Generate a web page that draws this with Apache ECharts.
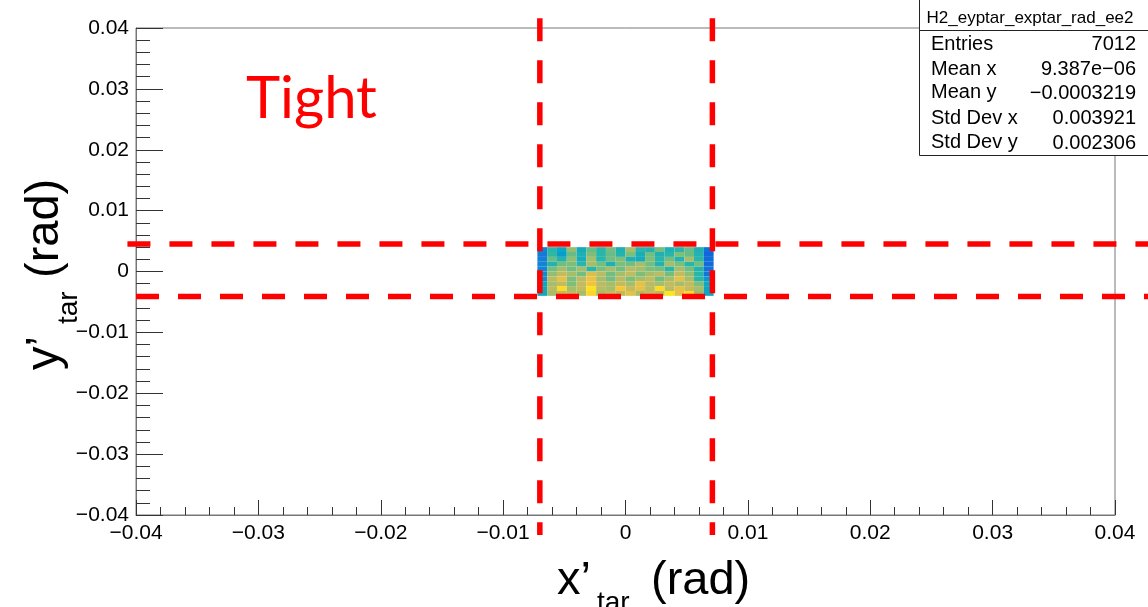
<!DOCTYPE html>
<html><head><meta charset="utf-8">
<script src="https://cdn.jsdelivr.net/npm/echarts@6/dist/echarts.min.js"></script>
<style>html,body{margin:0;padding:0;background:#fff}#c{width:1148px;height:607px}</style>
</head><body><div id="c"></div>
<script>
// ---- data ----
const xEdges = [-0.0072,-0.0064,-0.0056,-0.0048,-0.004,-0.0032,-0.0024,-0.0016,-0.0008,0,0.0008,0.0016,0.0024,0.0032,0.004,0.0048,0.0056,0.0064,0.0072];
const yEdges = [0.004,0.0032,0.0024,0.0016,0.0008,0,-0.0008,-0.0016,-0.0024,-0.0032,-0.004]; // top -> bottom
const counts = [
  [15,30,24,40,26,36,30,37,28,42,30,29,37,28,30,36,28,12],
  [14,31,22,36,28,38,30,36,29,38,27,37,28,30,38,36,29,10],
  [15,36,29,40,27,42,30,37,38,28,26,38,30,37,29,42,30,11],
  [16,29,37,38,30,42,37,28,38,37,42,37,29,42,38,30,37,11],
  [16,37,42,37,42,30,38,42,37,44,42,38,37,30,42,37,29,12],
  [17,40,45,42,37,48,44,37,42,45,38,42,44,37,45,40,30,13],
  [18,44,50,38,44,51,42,37,44,38,42,45,37,42,50,42,30,20],
  [24,42,45,38,45,52,44,42,45,42,50,44,42,45,42,45,38,25],
  [25,44,57,42,45,58,44,42,53,45,50,44,57,44,50,45,42,24],
  [25,42,45,44,42,56,42,45,44,50,42,45,44,59,50,57,40,24]
];
const cutX = [-0.007, 0.0071];   // vertical cut lines
const cutY = [0.0045, -0.0041];  // horizontal cut lines
const statsTitle = 'H2_eyptar_exptar_rad_ee2';
const statsNames = ['Entries','Mean x','Mean y','Std Dev x','Std Dev y'];
const statsValues = ['7012','9.387e\u221206','\u22120.0003219','0.003921','0.002306'];
const cutLabel = 'Tight';

// ---- build ----
const birdPalette = ['#352a87','#0f5cdd','#1481d6','#06a4ca','#2eb7a4','#87bf77','#d1bb59','#fec832','#f9fb0e'];
const cells = [];
counts.forEach((row, r) => row.forEach((v, c) => {
  cells.push([xEdges[c], xEdges[c+1], yEdges[r+1], yEdges[r], v]);
}));
const hStart = [-0.0407, -0.04];
const cutLines = [];
cutX.forEach(x => cutLines.push([x, 0.0416, x, -0.0433]));
cutY.forEach((y, i) => cutLines.push([hStart[i], y, 0.0427, y]));

function fmt(v){
  const r = Math.round(v*1000)/1000;
  if (r === 0) return '0';
  return (r < 0 ? '\u2212' : '') + Math.abs(r).toString();
}
const SANS = '"Liberation Sans", Arial, Helvetica, sans-serif';

const chart = echarts.init(document.getElementById('c'), null, {renderer:'canvas'});
const tickColor = '#333';
const lineColor = '#777';
chart.setOption({
  animation: false,
  backgroundColor: '#fff',
  grid: {left:136, top:28, right:33, bottom:92, show:true, borderColor:lineColor, borderWidth:1, backgroundColor:'transparent'},
  xAxis: {
    type:'value', min:-0.04, max:0.04, interval:0.01,
    axisLine:{show:true, onZero:false, lineStyle:{color:lineColor}},
    axisTick:{show:true, inside:true, length:15, lineStyle:{color:tickColor}},
    minorTick:{show:true, splitNumber:5, length:8, lineStyle:{color:tickColor}},
    splitLine:{show:false},
    axisLabel:{fontSize:21, color:'#000', margin:8, fontFamily:SANS, formatter:fmt, showMinLabel:true, showMaxLabel:true}
  },
  yAxis: {
    type:'value', min:-0.04, max:0.04, interval:0.01,
    axisLine:{show:true, onZero:false, lineStyle:{color:lineColor}},
    axisTick:{show:true, inside:true, length:27, lineStyle:{color:tickColor}},
    minorTick:{show:true, splitNumber:5, length:14, lineStyle:{color:tickColor}},
    splitLine:{show:false},
    axisLabel:{fontSize:21, color:'#000', margin:7, fontFamily:SANS, formatter:fmt, showMinLabel:true, showMaxLabel:true}
  },
  visualMap: {show:false, type:'continuous', min:0, max:62, dimension:4, seriesIndex:0, inRange:{color:birdPalette}},
  series: [
    {
      type:'custom', z:2, clip:true,
      encode:{x:[0,1], y:[2,3]},
      data: cells,
      renderItem: (params, api) => {
        const p0 = api.coord([api.value(0), api.value(3)]);
        const p1 = api.coord([api.value(1), api.value(2)]);
        return {type:'rect', shape:{x:p0[0], y:p0[1], width:p1[0]-p0[0], height:p1[1]-p0[1]},
                style:{fill: api.visual('color'), stroke:null}};
      }
    },
    {
      type:'custom', z:5, clip:false, silent:true,
      encode:{x:[0,2], y:[1,3]},
      data: cutLines,
      renderItem: (params, api) => {
        const a = api.coord([api.value(0), api.value(1)]);
        const b = api.coord([api.value(2), api.value(3)]);
        return {type:'line', shape:{x1:a[0], y1:a[1], x2:b[0], y2:b[1]},
                style:{stroke:'#ff0000', lineWidth:5.5, lineDash:[23,19], fill:null}};
      }
    }
  ],
  graphic: [
    // Stats box
    {type:'group', z:100, children:[
      {type:'rect', shape:{x:919.5, y:-1, width:240, height:156.5}, style:{fill:'#fff', stroke:'#222', lineWidth:1}},
      {type:'line', shape:{x1:919.5, y1:30.5, x2:1150, y2:30.5}, style:{stroke:'#222', lineWidth:1}},
      {type:'text', style:{text:statsTitle, x:1030, y:18, align:'center', verticalAlign:'middle', font:'17px '+SANS, fill:'#000'}},
      ...statsNames.map((n,i) => ({type:'text', style:{text:n, x:931, y:[44,69,92,118,142][i], align:'left', verticalAlign:'middle', font:'20px '+SANS, fill:'#000'}})),
      ...statsValues.map((v,i) => ({type:'text', style:{text:v, x:1136, y:[44,69,93,118,143][i], align:'right', verticalAlign:'middle', font:'20px '+SANS, fill:'#000'}}))
    ]},
    // "Tight" label
    {type:'text', z:100, style:{text:cutLabel, x:246, y:99, align:'left', verticalAlign:'middle', font:'58px Lato, "Open Sans", sans-serif', fill:'#ff0000'}},
    // x axis title
    {type:'group', x:557, y:597, z:100, children:[
      {type:'text', style:{text:'x\u2019', x:0, y:-16, align:'left', verticalAlign:'middle', font:'47px '+SANS, fill:'#000'}},
      {type:'text', style:{text:'tar', x:40, y:6, align:'left', verticalAlign:'middle', font:'28px '+SANS, fill:'#000'}},
      {type:'text', style:{text:'(rad)', x:94, y:-16, align:'left', verticalAlign:'middle', font:'47px '+SANS, fill:'#000'}}
    ]},
    // y axis title (rotated)
    {type:'group', x:61, y:370, rotation:Math.PI/2, z:100, children:[
      {type:'text', style:{text:'y\u2019', x:0, y:-16, align:'left', verticalAlign:'middle', font:'47px '+SANS, fill:'#000'}},
      {type:'text', style:{text:'tar', x:46, y:8, align:'left', verticalAlign:'middle', font:'28px '+SANS, fill:'#000'}},
      {type:'text', style:{text:'(rad)', x:92, y:-16, align:'left', verticalAlign:'middle', font:'47px '+SANS, fill:'#000'}}
    ]}
  ]
});
</script></body></html>
